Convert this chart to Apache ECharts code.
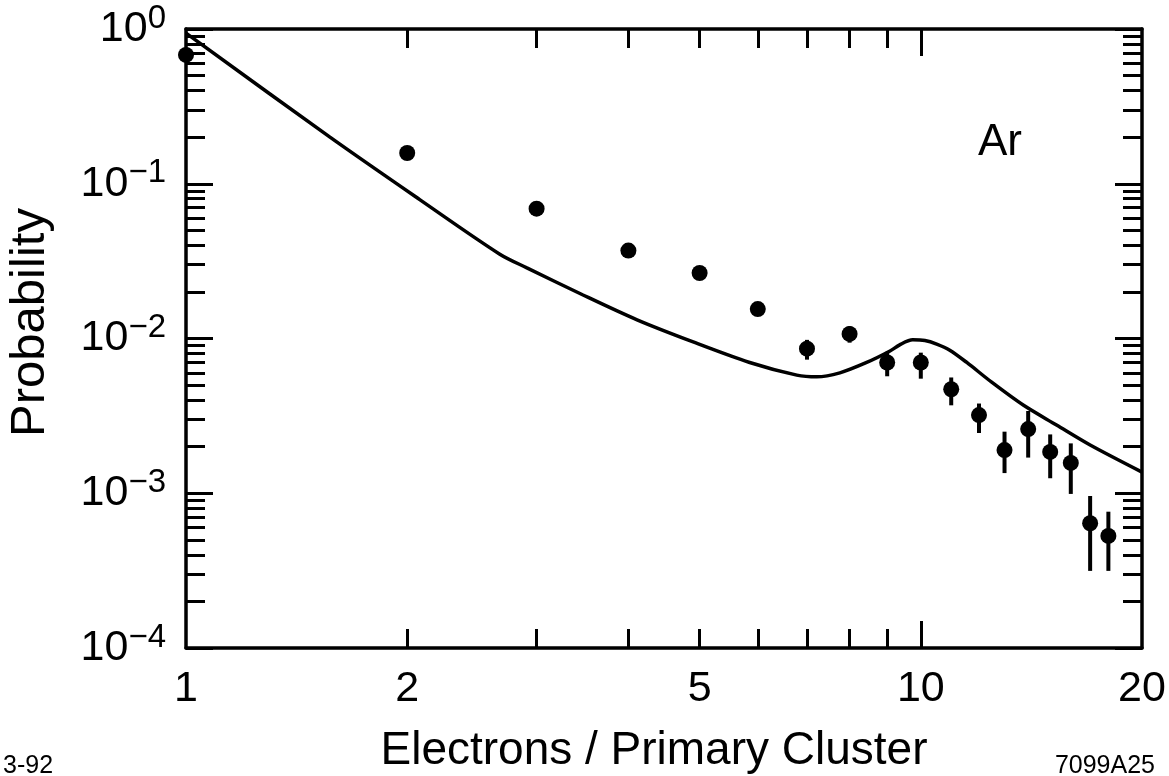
<!DOCTYPE html>
<html>
<head>
<meta charset="utf-8">
<script src="https://cdn.jsdelivr.net/npm/echarts@6/dist/echarts.min.js"></script>
<style>
  html, body { margin: 0; padding: 0; background: #ffffff; }
  #chart { width: 1169px; height: 776px; }
</style>
</head>
<body>
<div id="chart"></div>
<script>
// Measured cluster-size distribution in argon
const clusterSize = [1, 2, 3, 4, 5, 6, 7, 8, 9, 10, 11, 12, 13, 14, 15, 16, 17, 18];
const probability = [0.68, 0.158, 0.069, 0.037, 0.0265, 0.0155, 0.0086, 0.0107, 0.0070, 0.0070,
                     0.0047, 0.0032, 0.0019, 0.0026, 0.00185, 0.00157, 0.00064, 0.00053];
// Error bar limits (null where the bar is hidden by the marker)
const errLow  = [null, null, null, null, null, null, 0.0073, 0.0094, 0.0057, 0.0055,
                 0.0037, 0.00245, 0.00135, 0.0017, 0.00125, 0.00099, 0.000315, 0.000315];
const errHigh = [null, null, null, null, null, null, 0.0098, 0.0120, 0.0082, 0.0081,
                 0.0056, 0.0038, 0.0025, 0.0034, 0.0024, 0.0021, 0.00096, 0.00076];

// Calculated distribution (solid curve)
const modelX = [1.0, 1.57, 2.08, 2.67, 2.91, 3.47, 4.11, 4.90, 5.85, 6.78, 7.22,
                7.76, 8.44, 9.08, 9.36, 9.75, 10.13, 10.51, 10.95, 11.55, 12.5, 13.8, 15.3, 17.0, 20.0];
const modelP = [0.94, 0.20, 0.079, 0.0352, 0.0286, 0.0191, 0.0132, 0.0095,
                0.0070, 0.0058, 0.00565, 0.0060, 0.0070, 0.0083, 0.0091, 0.0098, 0.0097, 0.0092,
                0.0084, 0.0070, 0.0052, 0.0037, 0.00276, 0.00205, 0.00137];

// Axis ticks and labels
const xLabelValues = [1, 2, 5, 10, 20];
const xMinorTicks = [2, 3, 4, 5, 6, 7, 8, 9];
const xMajorTicks = [10];
const yLabelValues = [1e-4, 1e-3, 1e-2, 1e-1, 1];
const yMajorTicks = [1e-4, 1e-3, 1e-2, 1e-1, 1];
const yMinorTicks = [];
[1e-4, 1e-3, 1e-2, 1e-1].forEach(function (d) {
  for (let k = 2; k <= 9; k++) yMinorTicks.push(+(d * k).toPrecision(3));
});

const FONT = '"Liberation Sans", Arial, Helvetica, sans-serif';
const X_MIN = 1, X_MAX = 20, Y_MIN = 1e-4, Y_MAX = 1;

function xAxisDef(position, tickValues, tickLen, opts) {
  return Object.assign({
    type: 'log', logBase: 10, min: X_MIN, max: X_MAX, position: position,
    axisLine: { show: false, onZero: false },
    axisTick: { show: true, inside: true, length: tickLen, customValues: tickValues,
                lineStyle: { color: '#000', width: 3 } },
    axisLabel: { show: false },
    splitLine: { show: false }, minorTick: { show: false }, minorSplitLine: { show: false }
  }, opts || {});
}
function yAxisDef(position, tickValues, tickLen, opts) {
  return Object.assign({
    type: 'log', logBase: 10, min: Y_MIN, max: Y_MAX, position: position,
    axisLine: { show: false, onZero: false },
    axisTick: { show: true, inside: true, length: tickLen, customValues: tickValues,
                lineStyle: { color: '#000', width: 3 } },
    axisLabel: { show: false },
    splitLine: { show: false }, minorTick: { show: false }, minorSplitLine: { show: false }
  }, opts || {});
}

const axisLineStyle = { show: true, onZero: false, lineStyle: { color: '#000', width: 3.5 } };

const chart = echarts.init(document.getElementById('chart'), null, { renderer: 'canvas' });

chart.setOption({
  animation: false,
  backgroundColor: '#ffffff',
  textStyle: { fontFamily: FONT, color: '#000' },
  grid: { left: 186, right: 27, top: 29, bottom: 128, containLabel: false, outerBoundsMode: 'none' },
  xAxis: [
    xAxisDef('bottom', xMinorTicks, 19, {
      axisLine: axisLineStyle,
      name: 'Electrons / Primary Cluster',
      nameLocation: 'middle',
      nameGap: 80,
      nameTextStyle: { fontFamily: FONT, fontSize: 46, color: '#000', padding: [0, 20, 0, 0] },
      axisLabel: {
        show: true, customValues: xLabelValues, margin: 20, hideOverlap: false,
        fontFamily: FONT, fontSize: 43, color: '#000',
        formatter: function (v) { return String(Math.round(v)); }
      }
    }),
    xAxisDef('bottom', xMajorTicks, 27),
    xAxisDef('top', xMinorTicks, 19, { axisLine: axisLineStyle }),
    xAxisDef('top', xMajorTicks, 27)
  ],
  yAxis: [
    yAxisDef('left', yMinorTicks, 19, {
      axisLine: axisLineStyle,
      name: 'Probability',
      nameLocation: 'middle',
      nameRotate: 90,
      nameGap: 131,
      nameTextStyle: { fontFamily: FONT, fontSize: 49, color: '#000', padding: [0, 0, 0, 32] },
      axisLabel: {
        show: true, customValues: yLabelValues, margin: 20, hideOverlap: false,
        formatter: function (v) {
          const e = Math.round(Math.log10(v));
          return '{b|10}{e|' + (e < 0 ? '\u2212' + (-e) : String(e)) + '}';
        },
        rich: {
          b: { fontFamily: FONT, fontSize: 43, lineHeight: 54, color: '#000' },
          e: { fontFamily: FONT, fontSize: 33, verticalAlign: 'top', color: '#000' }
        }
      }
    }),
    yAxisDef('left', yMajorTicks, 27),
    yAxisDef('right', yMinorTicks, 19, { axisLine: axisLineStyle }),
    yAxisDef('right', yMajorTicks, 27)
  ],
  series: [
    {
      name: 'calculation',
      type: 'line',
      xAxisIndex: 0, yAxisIndex: 0,
      data: modelX.map(function (x, i) { return [x, modelP[i]]; }),
      smooth: 0.3,
      showSymbol: false,
      lineStyle: { color: '#000', width: 3.5 },
      z: 3
    },
    {
      name: 'error',
      type: 'custom',
      xAxisIndex: 0, yAxisIndex: 0,
      data: clusterSize.map(function (n, i) { return [n, errLow[i], errHigh[i]]; })
                       .filter(function (d) { return d[1] !== null; }),
      encode: { x: 0, y: [1, 2] },
      renderItem: function (params, api) {
        const x = api.value(0);
        const a = api.coord([x, api.value(1)]);
        const b = api.coord([x, api.value(2)]);
        return {
          type: 'line',
          shape: { x1: a[0], y1: a[1], x2: b[0], y2: b[1] },
          style: { stroke: '#000', lineWidth: 4 }
        };
      },
      z: 4
    },
    {
      name: 'data',
      type: 'scatter',
      xAxisIndex: 0, yAxisIndex: 0,
      data: clusterSize.map(function (n, i) { return [n, probability[i]]; }),
      symbol: 'circle',
      symbolSize: 16,
      itemStyle: { color: '#000', opacity: 1 },
      z: 5
    }
  ],
  graphic: [
    { type: 'text', left: 978, top: 121,
      style: { text: 'Ar', fontFamily: FONT, fontSize: 44, fill: '#000' } },
    { type: 'text', left: 3, top: 754,
      style: { text: '3-92', fontFamily: FONT, fontSize: 25, fill: '#000' } },
    { type: 'text', right: 14, top: 754,
      style: { text: '7099A25', fontFamily: FONT, fontSize: 25, fill: '#000' } }
  ]
});
</script>
</body>
</html>
